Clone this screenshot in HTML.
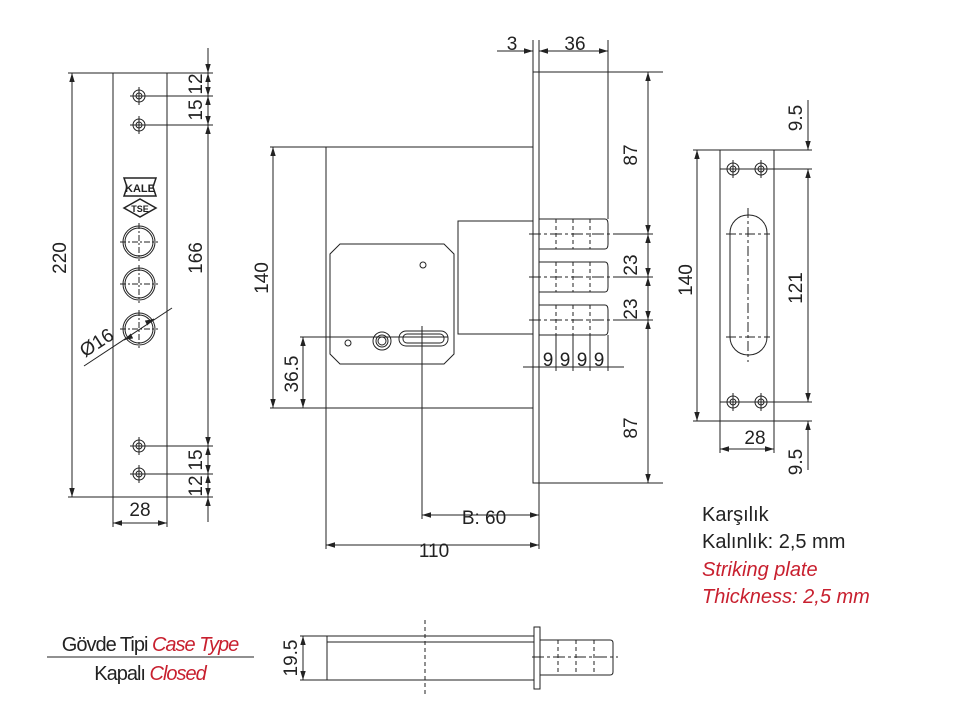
<!DOCTYPE html>
<html><head><meta charset="utf-8"><style>
body{margin:0;background:#fff}
svg{display:block}
text{font-family:"Liberation Sans",sans-serif;fill:#222}
</style></head><body>
<svg width="962" height="703" viewBox="0 0 962 703" xmlns="http://www.w3.org/2000/svg">
<defs>
<marker id="a" viewBox="0 0 10 10" refX="10" refY="5" markerWidth="9" markerHeight="9" orient="auto-start-reverse" markerUnits="userSpaceOnUse"><path d="M0,2 L10,5 L0,8 z" fill="#222"/></marker>
</defs>
<g stroke="#222" stroke-width="1" fill="none">
<!-- LEFT PLATE -->
<rect x="113" y="73" width="54" height="424"/>
<line x1="68" y1="73" x2="113" y2="73"/><line x1="68" y1="497" x2="113" y2="497"/>
<line x1="72" y1="73" x2="72" y2="497" marker-start="url(#a)" marker-end="url(#a)"/>
<line x1="167" y1="73" x2="213" y2="73"/><line x1="167" y1="497" x2="213" y2="497"/>
<line x1="208" y1="48" x2="208" y2="73" marker-end="url(#a)"/>
<line x1="208" y1="73" x2="208" y2="96" marker-start="url(#a)" marker-end="url(#a)"/>
<line x1="208" y1="96" x2="208" y2="125" marker-start="url(#a)" marker-end="url(#a)"/>
<line x1="208" y1="125" x2="208" y2="446" marker-start="url(#a)" marker-end="url(#a)"/>
<line x1="208" y1="446" x2="208" y2="474" marker-start="url(#a)" marker-end="url(#a)"/>
<line x1="208" y1="474" x2="208" y2="497" marker-start="url(#a)" marker-end="url(#a)"/>
<line x1="208" y1="497" x2="208" y2="522" marker-start="url(#a)"/>
<g>
<circle cx="139" cy="96" r="6"/><circle cx="139" cy="96" r="3"/>
<line x1="130" y1="96" x2="213" y2="96"/><line x1="139" y1="87" x2="139" y2="105"/>
<circle cx="139" cy="125" r="6"/><circle cx="139" cy="125" r="3"/>
<line x1="130" y1="125" x2="213" y2="125"/><line x1="139" y1="116" x2="139" y2="134"/>
<circle cx="139" cy="446" r="6"/><circle cx="139" cy="446" r="3"/>
<line x1="130" y1="446" x2="213" y2="446"/><line x1="139" y1="437" x2="139" y2="455"/>
<circle cx="139" cy="474" r="6"/><circle cx="139" cy="474" r="3"/>
<line x1="130" y1="474" x2="213" y2="474"/><line x1="139" y1="465" x2="139" y2="483"/>
</g>
<circle cx="139" cy="242" r="16"/><circle cx="139" cy="242" r="14"/>
<circle cx="139" cy="284" r="16"/><circle cx="139" cy="284" r="14"/>
<circle cx="139" cy="329" r="16"/><circle cx="139" cy="329" r="14"/>
<g stroke-dasharray="6,2,2,2">
<line x1="120" y1="242" x2="158" y2="242"/><line x1="139" y1="223" x2="139" y2="261"/>
<line x1="120" y1="284" x2="158" y2="284"/><line x1="139" y1="265" x2="139" y2="303"/>
<line x1="120" y1="329" x2="158" y2="329"/><line x1="139" y1="310" x2="139" y2="348"/>
</g>
<line x1="84" y1="366" x2="172" y2="308"/>
<line x1="128" y1="338" x2="124" y2="340" marker-end="url(#a)"/>
<line x1="152" y1="320" x2="154" y2="319" marker-end="url(#a)"/>
<line x1="113" y1="497" x2="113" y2="527"/><line x1="167" y1="497" x2="167" y2="527"/>
<line x1="113" y1="523" x2="167" y2="523" marker-start="url(#a)" marker-end="url(#a)"/>
<!-- logo -->
<path d="M124,178 L156,178 L153,187 L156,196 L124,196 L127,187 Z" stroke-width="1.5"/>
<path d="M124,208 L140,199 L156,208 L140,217 Z" stroke-width="1.5"/>

<!-- MIDDLE -->
<rect x="533" y="72" width="6" height="411"/>
<path d="M533,147 L326,147 L326,408 L533,408"/>
<path d="M340,244 L444,244 L454,254 L454,354 L444,364 L340,364 L330,354 L330,254 Z"/>
<circle cx="423" cy="265" r="3"/><circle cx="348" cy="343" r="3"/>
<circle cx="382" cy="341" r="9"/><circle cx="382" cy="341" r="6"/><circle cx="382" cy="341" r="4"/>
<rect x="399" y="331" width="49" height="15" rx="7"/>
<rect x="403" y="334" width="41" height="9" rx="4"/>
<rect x="458" y="221" width="75" height="113"/>
<path d="M539,219 L605,219 Q608,219 608,224 L608,244 Q608,249 605,249 L539,249"/>
<path d="M539,262 L605,262 Q608,262 608,267 L608,287 Q608,292 605,292 L539,292"/>
<path d="M539,305 L605,305 Q608,305 608,310 L608,330 Q608,335 605,335 L539,335"/>
<g stroke-dasharray="4,3">
<line x1="556" y1="219" x2="556" y2="249"/><line x1="573" y1="219" x2="573" y2="249"/><line x1="590" y1="219" x2="590" y2="249"/>
<line x1="556" y1="262" x2="556" y2="292"/><line x1="573" y1="262" x2="573" y2="292"/><line x1="590" y1="262" x2="590" y2="292"/>
<line x1="556" y1="305" x2="556" y2="335"/><line x1="573" y1="305" x2="573" y2="335"/><line x1="590" y1="305" x2="590" y2="335"/>
</g>
<g stroke-dasharray="12,3,3,3">
<line x1="529" y1="234" x2="617" y2="234"/><line x1="529" y1="277" x2="617" y2="277"/><line x1="529" y1="320" x2="617" y2="320"/>
</g>
<line x1="617" y1="234" x2="653" y2="234"/><line x1="617" y1="277" x2="653" y2="277"/><line x1="617" y1="320" x2="653" y2="320"/>
<line x1="270" y1="147" x2="326" y2="147"/><line x1="270" y1="408" x2="326" y2="408"/>
<line x1="273" y1="147" x2="273" y2="408" marker-start="url(#a)" marker-end="url(#a)"/>
<line x1="300" y1="337" x2="448" y2="337"/>
<line x1="303" y1="337" x2="303" y2="408" marker-start="url(#a)" marker-end="url(#a)"/>
<line x1="422" y1="326" x2="422" y2="519"/>
<line x1="422" y1="515" x2="539" y2="515" marker-start="url(#a)" marker-end="url(#a)"/>
<line x1="326" y1="408" x2="326" y2="549"/><line x1="539" y1="483" x2="539" y2="549"/>
<line x1="326" y1="545" x2="539" y2="545" marker-start="url(#a)" marker-end="url(#a)"/>
<line x1="533" y1="40" x2="533" y2="72"/><line x1="539" y1="40" x2="539" y2="72"/><line x1="608" y1="40" x2="608" y2="219"/>
<line x1="497" y1="51" x2="533" y2="51" marker-end="url(#a)"/>
<line x1="539" y1="51" x2="608" y2="51" marker-start="url(#a)" marker-end="url(#a)"/>
<line x1="539" y1="72" x2="663" y2="72"/><line x1="539" y1="483" x2="663" y2="483"/>
<line x1="648" y1="72" x2="648" y2="234" marker-start="url(#a)" marker-end="url(#a)"/>
<line x1="648" y1="234" x2="648" y2="277" marker-start="url(#a)" marker-end="url(#a)"/>
<line x1="648" y1="277" x2="648" y2="320" marker-start="url(#a)" marker-end="url(#a)"/>
<line x1="648" y1="320" x2="648" y2="483" marker-start="url(#a)" marker-end="url(#a)"/>
<line x1="556" y1="335" x2="556" y2="371"/><line x1="573" y1="335" x2="573" y2="371"/><line x1="590" y1="335" x2="590" y2="371"/><line x1="608" y1="335" x2="608" y2="371"/>
<line x1="523" y1="367" x2="624" y2="367"/>

<!-- RIGHT PLATE -->
<rect x="720" y="150" width="54" height="271"/>
<line x1="693" y1="150" x2="720" y2="150"/><line x1="693" y1="421" x2="720" y2="421"/>
<line x1="697" y1="150" x2="697" y2="421" marker-start="url(#a)" marker-end="url(#a)"/>
<line x1="774" y1="150" x2="812" y2="150"/><line x1="774" y1="421" x2="812" y2="421"/>
<line x1="808" y1="100" x2="808" y2="150" marker-end="url(#a)"/>
<line x1="808" y1="169" x2="808" y2="402" marker-start="url(#a)" marker-end="url(#a)"/>
<line x1="808" y1="421" x2="808" y2="470" marker-start="url(#a)"/>
<circle cx="733" cy="169" r="6"/><circle cx="733" cy="169" r="3"/>
<circle cx="761" cy="169" r="6"/><circle cx="761" cy="169" r="3"/>
<circle cx="733" cy="402" r="6"/><circle cx="733" cy="402" r="3"/>
<circle cx="761" cy="402" r="6"/><circle cx="761" cy="402" r="3"/>
<line x1="720" y1="169" x2="812" y2="169"/><line x1="720" y1="402" x2="812" y2="402"/>
<line x1="733" y1="160" x2="733" y2="178"/><line x1="761" y1="160" x2="761" y2="178"/>
<line x1="733" y1="393" x2="733" y2="411"/><line x1="761" y1="393" x2="761" y2="411"/>
<rect x="730" y="215" width="37" height="140" rx="18"/>
<g stroke-dasharray="10,3,3,3">
<line x1="748" y1="208" x2="748" y2="362"/>
<line x1="726" y1="234" x2="770" y2="234"/><line x1="726" y1="337" x2="770" y2="337"/>
</g>
<line x1="720" y1="421" x2="720" y2="453"/><line x1="774" y1="421" x2="774" y2="453"/>
<line x1="720" y1="449" x2="774" y2="449" marker-start="url(#a)" marker-end="url(#a)"/>

<!-- BOTTOM -->
<path d="M534,636 L327,636 L327,680 L534,680"/>
<line x1="327" y1="642" x2="534" y2="642"/>
<rect x="534" y="627" width="6" height="62"/>
<path d="M540,640 L610,640 Q613,640 613,643 L613,672 Q613,675 610,675 L540,675"/>
<g stroke-dasharray="4,3">
<line x1="558" y1="640" x2="558" y2="675"/><line x1="576" y1="640" x2="576" y2="675"/><line x1="594" y1="640" x2="594" y2="675"/>
<line x1="425" y1="620" x2="425" y2="695"/>
</g>
<line x1="532" y1="657" x2="618" y2="657" stroke-dasharray="12,3,3,3"/>
<line x1="300" y1="636" x2="327" y2="636"/><line x1="300" y1="680" x2="327" y2="680"/>
<line x1="303" y1="636" x2="303" y2="680" marker-start="url(#a)" marker-end="url(#a)"/>
<line x1="47" y1="657" x2="254" y2="657"/>
</g>
<!-- logo text -->
<text x="140" y="192" font-size="11" font-weight="bold" text-anchor="middle">KALE</text>
<text x="140" y="212" font-size="9" font-weight="bold" text-anchor="middle">TSE</text>
<!-- labels -->
<g font-size="19">
<text transform="translate(66,258) rotate(-90)" text-anchor="middle">220</text>
<text transform="translate(202,258) rotate(-90)" text-anchor="middle">166</text>
<text transform="translate(202,84) rotate(-90)" text-anchor="middle">12</text>
<text transform="translate(202,110) rotate(-90)" text-anchor="middle">15</text>
<text transform="translate(202,460) rotate(-90)" text-anchor="middle">15</text>
<text transform="translate(202,486) rotate(-90)" text-anchor="middle">12</text>
<text x="140" y="516" text-anchor="middle">28</text>
<text transform="translate(100,348) rotate(-33)" text-anchor="middle">Ø16</text>
<text transform="translate(268,278) rotate(-90)" text-anchor="middle">140</text>
<text transform="translate(298,374) rotate(-90)" text-anchor="middle">36.5</text>
<text x="512" y="50" text-anchor="middle">3</text>
<text x="575" y="50" text-anchor="middle">36</text>
<text transform="translate(637,155) rotate(-90)" text-anchor="middle">87</text>
<text transform="translate(637,265) rotate(-90)" text-anchor="middle">23</text>
<text transform="translate(637,309) rotate(-90)" text-anchor="middle">23</text>
<text transform="translate(637,428) rotate(-90)" text-anchor="middle">87</text>
<text x="548" y="366" text-anchor="middle">9</text>
<text x="565" y="366" text-anchor="middle">9</text>
<text x="582" y="366" text-anchor="middle">9</text>
<text x="599" y="366" text-anchor="middle">9</text>
<text x="484" y="524" text-anchor="middle">B: 60</text>
<text x="434" y="557" text-anchor="middle">110</text>
<text transform="translate(692,280) rotate(-90)" text-anchor="middle">140</text>
<text transform="translate(802,288) rotate(-90)" text-anchor="middle">121</text>
<text transform="translate(802,118) rotate(-90)" text-anchor="middle">9.5</text>
<text transform="translate(802,462) rotate(-90)" text-anchor="middle">9.5</text>
<text x="755" y="444" text-anchor="middle">28</text>
<text transform="translate(297,658) rotate(-90)" text-anchor="middle">19.5</text>
</g>
<g font-size="20">
<text x="702" y="521">Karşılık</text>
<text x="702" y="548">Kalınlık: 2,5 mm</text>
<text x="702" y="576" style="fill:#c8202f;font-style:italic">Striking plate</text>
<text x="702" y="603" style="fill:#c8202f;font-style:italic">Thickness: 2,5 mm</text>
<text x="150" y="651" text-anchor="middle" letter-spacing="-1">Gövde Tipi <tspan style="fill:#c8202f;font-style:italic">Case Type</tspan></text>
<text x="150" y="680" text-anchor="middle" letter-spacing="-1">Kapalı <tspan style="fill:#c8202f;font-style:italic">Closed</tspan></text>
</g>
</svg>
</body></html>
